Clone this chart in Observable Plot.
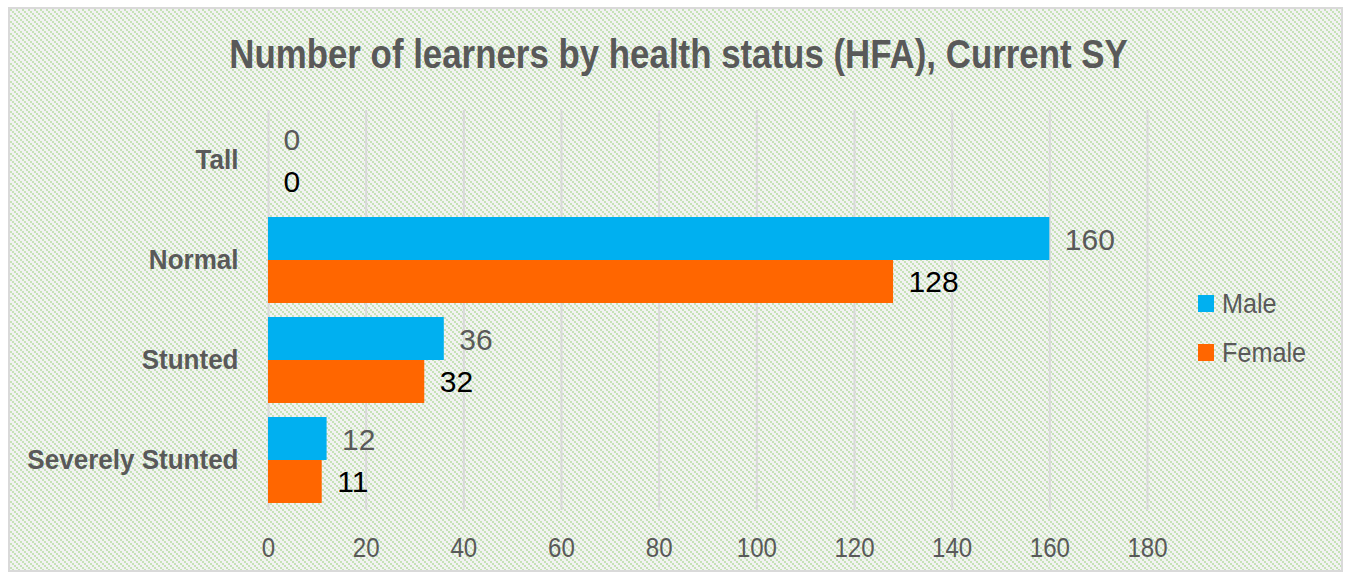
<!DOCTYPE html>
<html>
<head>
<meta charset="utf-8">
<script src="https://cdn.jsdelivr.net/npm/d3@7"></script>
<script src="https://cdn.jsdelivr.net/npm/@observablehq/plot@0.6"></script>
<style>
  html, body { margin: 0; padding: 0; background: #ffffff; }
  #wrap { position: relative; width: 1349px; height: 575px; overflow: hidden; background: #ffffff; }
  #frame {
    position: absolute; left: 8px; top: 7px; width: 1331px; height: 561px;
    border: 2px solid #d9d9d9;
    background-color: #f2f2f2;
    background-image: url("data:image/svg+xml,%3Csvg xmlns='http://www.w3.org/2000/svg' width='6' height='6' shape-rendering='crispEdges'%3E%3Crect width='6' height='6' fill='%23f2f2f2'/%3E%3Crect x='0' y='0' width='2' height='2' fill='%23c5e2b6'/%3E%3Crect x='2' y='2' width='2' height='2' fill='%23c5e2b6'/%3E%3Crect x='4' y='4' width='2' height='2' fill='%23c5e2b6'/%3E%3C/svg%3E");
    background-repeat: repeat;
  }
  #title {
    position: absolute; left: 4px; top: 0; width: 1349px; height: 95px;
    text-align: center; line-height: 108px;
    font-family: "Liberation Sans", Arial, sans-serif;
    font-weight: bold; font-size: 41px; color: #595959;
    transform: scaleX(0.85); transform-origin: 50% 50%;
  }
  #chart { position: absolute; left: 0; top: 95px; }
  #legend {
    position: absolute; left: 1198px; top: 279px;
    font-family: "Liberation Sans", Arial, sans-serif;
    font-size: 28px; color: #595959;
  }
  .item { display: flex; align-items: center; height: 49px; }
  .sw { width: 16px; height: 17px; margin-right: 8px; flex: none; }
  .lt { display: inline-block; transform: scaleX(0.9); transform-origin: 0 50%; white-space: nowrap; }
  svg text { font-family: "Liberation Sans", Arial, sans-serif; }
</style>
</head>
<body>
<div id="wrap">
  <div id="frame"></div>
  <div id="title">Number of learners by health status (HFA), Current SY</div>
  <div id="chart"></div>
  <div id="legend"></div>
</div>
<script>
const categories = ["Tall", "Normal", "Stunted", "Severely Stunted"];
const series = ["Male", "Female"];
const maleValues = [0, 160, 36, 12];
const femaleValues = [0, 128, 32, 11];
const seriesColors = ["#00b0f0", "#ff6600"];
const labelColors = ["#595959", "#000000"];
const xTicks = [0, 20, 40, 60, 80, 100, 120, 140, 160, 180];

const male = categories.map((c, i) => ({category: c, series: "Male", value: maleValues[i]}));
const female = categories.map((c, i) => ({category: c, series: "Female", value: femaleValues[i]}));

const font = "Liberation Sans, Arial, sans-serif";
const half = 43;

const chart = Plot.plot({
  width: 1349,
  height: 470,
  marginLeft: 268,
  marginRight: 202,
  marginTop: 15,
  marginBottom: 55,
  style: {background: "transparent", fontFamily: font, overflow: "visible"},
  x: {domain: [0, 180], ticks: xTicks},
  y: {domain: categories, paddingInner: 0.14, paddingOuter: 0.07},
  color: {domain: series, range: seriesColors},
  marks: [
    Plot.gridX(xTicks, {stroke: "#d9d9d9", strokeOpacity: 1, strokeWidth: 2}),
    Plot.barX(male, {x: "value", y: "category", fill: "series", insetBottom: half}),
    Plot.barX(female, {x: "value", y: "category", fill: "series", insetTop: half}),
    Plot.text(male, {x: "value", y: "category", text: d => String(d.value), dy: -20, dx: 15, textAnchor: "start", fontSize: 30, fill: labelColors[0], ariaLabel: "value-label"}),
    Plot.text(female, {x: "value", y: "category", text: d => String(d.value), dy: 22, dx: 15, textAnchor: "start", fontSize: 30, fill: labelColors[1], ariaLabel: "value-label"}),
    Plot.axisX(xTicks, {tickSize: 0, tickPadding: 27, fontSize: 28, fill: "#595959", label: null}),
    Plot.axisY({tickSize: 0, tickPadding: 30, fontSize: 28, fontWeight: "bold", fill: "#595959", label: null})
  ]
});

// Narrow the glyphs horizontally about each text's anchor (no narrow font installed)
function narrow(selector, f) {
  chart.querySelectorAll(selector).forEach(t => {
    const x = +t.getAttribute("x") || 0;
    const tr = t.getAttribute("transform") || "";
    t.setAttribute("transform", `${tr} translate(${x},0) scale(${f},1) translate(${-x},0)`);
  });
}
narrow('g[aria-label="x-axis tick label"] text', 0.86);
narrow('g[aria-label="y-axis tick label"] text', 0.93);
narrow('g[aria-label="value-label"] text', 0.86);

document.getElementById("chart").appendChild(chart);

const legend = document.getElementById("legend");
series.forEach((s, i) => {
  const item = document.createElement("div");
  item.className = "item";
  const sw = document.createElement("div");
  sw.className = "sw";
  sw.style.background = seriesColors[i];
  const t = document.createElement("span");
  t.className = "lt";
  t.textContent = s;
  item.appendChild(sw);
  item.appendChild(t);
  legend.appendChild(item);
});
</script>
</body>
</html>
